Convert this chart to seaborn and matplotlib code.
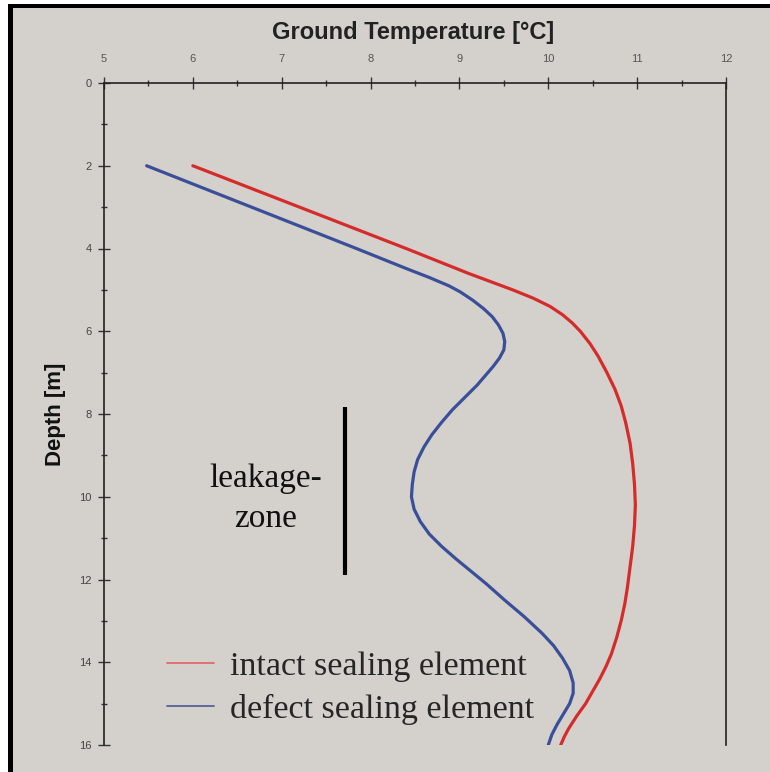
import numpy as np
import pandas as pd
import seaborn as sns
import matplotlib.pyplot as plt
from matplotlib.lines import Line2D
from matplotlib.patches import Rectangle
from matplotlib.ticker import MultipleLocator

# data
depth_intact = [2.0, 2.5, 3.0, 3.5, 4.0, 4.42, 4.6, 4.8, 5.0, 5.2, 5.4, 5.6, 5.8, 6.0, 6.3, 6.6,
                7.0, 7.4, 7.8, 8.2, 8.7, 9.2, 9.7, 10.2, 10.7, 11.2, 11.7, 12.2, 12.6, 13.0,
                13.4, 13.8, 14.1, 14.4, 14.7, 15.0, 15.3, 15.6, 15.8, 16.0]
temp_intact = [6.0, 6.6, 7.2, 7.8, 8.4, 8.89, 9.1, 9.35, 9.6, 9.83, 10.02, 10.16, 10.27, 10.36, 10.47, 10.56,
               10.66, 10.75, 10.82, 10.87, 10.92, 10.95, 10.97, 10.98, 10.97, 10.95, 10.92, 10.89, 10.86, 10.82,
               10.77, 10.71, 10.65, 10.58, 10.5, 10.42, 10.32, 10.23, 10.18, 10.14]

depth_defect = [2.0, 2.5, 3.0, 3.5, 4.0, 4.5, 4.7, 4.9, 5.05, 5.25, 5.45, 5.65, 5.85, 6.05, 6.25,
                6.45, 6.65, 6.85, 7.05, 7.3, 7.6, 7.9, 8.2, 8.5, 8.8, 9.1, 9.4, 9.7, 10.0,
                10.3, 10.6, 10.9, 11.2, 11.5, 11.8, 12.1, 12.5, 12.9, 13.3, 13.6, 13.9, 14.2,
                14.5, 14.75, 15.0, 15.25, 15.5, 15.75, 16.0]
temp_defect = [5.48, 6.07, 6.66, 7.25, 7.84, 8.42, 8.66, 8.88, 9.01, 9.15, 9.27, 9.37, 9.44, 9.49, 9.51,
               9.5, 9.45, 9.38, 9.3, 9.2, 9.06, 8.92, 8.8, 8.69, 8.6, 8.53, 8.49, 8.47, 8.46,
               8.49, 8.56, 8.66, 8.8, 8.96, 9.13, 9.3, 9.51, 9.73, 9.93, 10.06, 10.16, 10.24,
               10.28, 10.28, 10.24, 10.17, 10.1, 10.04, 10.0]

labels = ["intact sealing element", "defect sealing element"]
leak_temp = 7.71
leak_depth = [7.83, 11.88]

BG = '#d4d1cc'
RED = '#d42b2b'
BLUE = '#3b4e98'

sns.set_style("white")
plt.rcParams['font.family'] = ['Liberation Sans', 'DejaVu Sans']

fig = plt.figure(figsize=(7.7, 7.72), dpi=100, facecolor='white')
# gray panel + black frame on left and top (like the scanned figure)
fig.patches.append(Rectangle((12/770, 0), 1, 1 - 8/772, transform=fig.transFigure,
                             facecolor=BG, edgecolor='none', zorder=-2))
fig.patches.append(Rectangle((8/770, 0), 4.5/770, 1 - 4/772, transform=fig.transFigure,
                             facecolor='black', edgecolor='none', zorder=-1))
fig.patches.append(Rectangle((8/770, 1 - 8/772), 1, 4/772, transform=fig.transFigure,
                             facecolor='black', edgecolor='none', zorder=-1))

ax = fig.add_axes([104/770, 1 - 745/772, 622/770, 662/772])
ax.set_facecolor(BG)

df1 = pd.DataFrame({'T': temp_intact, 'd': depth_intact})
df2 = pd.DataFrame({'T': temp_defect, 'd': depth_defect})
sns.lineplot(data=df1, x='T', y='d', sort=False, estimator=None, color=RED, linewidth=2.3, ax=ax)
sns.lineplot(data=df2, x='T', y='d', sort=False, estimator=None, color=BLUE, linewidth=2.3, ax=ax)

ax.vlines(leak_temp, leak_depth[0], leak_depth[1], color='black', linewidth=3)
ax.text(6.82, 10.05, "leakage-\nzone", family='Liberation Serif', fontsize=24,
        ha='center', va='center', linespacing=1.42, color='#111111')

ax.set_xlim(5, 12)
ax.set_ylim(16, 0)
ax.xaxis.set_major_locator(MultipleLocator(1))
ax.xaxis.set_minor_locator(MultipleLocator(0.5))
ax.yaxis.set_major_locator(MultipleLocator(2))
ax.yaxis.set_minor_locator(MultipleLocator(1))
ax.tick_params(axis='x', which='both', top=True, bottom=False, labeltop=True, labelbottom=False,
               direction='inout', colors='#333333', labelcolor='#555555', labelsize=8, pad=10)
ax.tick_params(axis='x', which='major', length=8, width=1)
ax.tick_params(axis='x', which='minor', length=4, width=1)
ax.tick_params(axis='y', which='both', left=True, direction='inout', colors='#333333',
               labelcolor='#444444', labelsize=8, pad=5)
ax.tick_params(axis='y', which='major', length=8, width=1)
ax.tick_params(axis='y', which='minor', length=4, width=1)

for s in ['left', 'top', 'right']:
    ax.spines[s].set_visible(True)
    ax.spines[s].set_color('#222222')
    ax.spines[s].set_linewidth(1.2)
ax.spines['bottom'].set_visible(False)

ax.set_xlabel("")
ax.set_ylabel("")
fig.text(413/770, 1 - 32/772, "Ground Temperature [°C]", fontsize=17, fontweight='bold',
         ha='center', va='center', color='#222222')
fig.text(56/770, 1 - 414/772, "Depth [m]", fontsize=16, fontweight='bold', rotation=90,
         ha='center', va='center', color='#111111')

handles = [Line2D([], [], color='#e06a6a', linewidth=1.3),
           Line2D([], [], color='#56609a', linewidth=1.3)]
ax.legend(handles, labels, loc='center left', bbox_to_anchor=(0.1013, 0.0861),
          frameon=False, borderpad=0, borderaxespad=0, handlelength=1.38, handletextpad=0.48,
          labelspacing=0.36, prop={'family': 'Liberation Serif', 'size': 24.5})

fig.savefig("out.png", dpi=100, facecolor=fig.get_facecolor())
